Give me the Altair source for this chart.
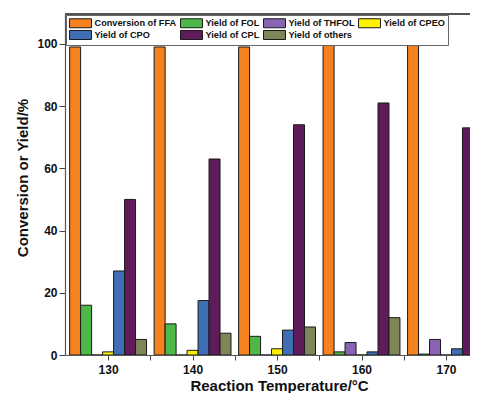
import altair as alt
import pandas as pd

temps = [130, 140, 150, 160, 170]
series = ["Conversion of FFA", "Yield of FOL", "Yield of THFOL", "Yield of CPEO",
          "Yield of CPO", "Yield of CPL", "Yield of others"]
ffa = [99, 99, 99, 100, 100]
fol = [16, 10, 6, 1, 0.3]
thfol = [0, 0, 0, 4, 5]
cpeo = [1, 1.5, 2, 0, 0]
cpo = [27, 17.5, 8, 1, 2]
cpl = [50, 63, 74, 81, 73]
others = [5, 7, 9, 12, 19.6]
colors = ["#F5821F", "#4DB848", "#8B63B5", "#FFF200", "#3F6EB5", "#5F1C5B", "#7E8556"]

values = [ffa, fol, thfol, cpeo, cpo, cpl, others]
rows = []
for i, (name, vals) in enumerate(zip(series, values)):
    for t, v in zip(temps, vals):
        rows.append({"temp": t, "series": name, "idx": i, "value": v})
df = pd.DataFrame(rows)

FONT = "Liberation Sans"
W = 405
xscale = alt.Scale(domain=[124.9, 172.84], nice=False, zero=False)
yscale = alt.Scale(domain=[0, 109.6], nice=False)

bars = alt.Chart(df).transform_calculate(
    x0="datum.temp + (datum.idx - 3.5) * 1.3",
    x1="datum.temp + (datum.idx - 2.5) * 1.3",
).mark_bar(stroke="#1a1a1a", strokeWidth=1, clip=True).encode(
    x=alt.X("x0:Q", scale=xscale, axis=alt.Axis(
        values=[130, 135, 140, 145, 150, 155, 160, 165, 170],
        labelExpr="datum.value % 10 == 0 ? datum.label : ''",
        title="Reaction Temperature/°C", grid=False, tickSize=5,
        labelPadding=4, titleX=214, titleY=35, titleBaseline="alphabetic",
        titleAlign="center", titleFontSize=15)),
    x2="x1:Q",
    y=alt.Y("value:Q", scale=yscale, axis=alt.Axis(
        values=[0, 20, 40, 60, 80, 100], title="Conversion or Yield/%",
        grid=False, tickSize=6, labelPadding=2,
        titleX=-43, titleY=163.5, titleAngle=-90, titleAlign="center",
        titleBaseline="middle")),
    y2=alt.datum(0),
    color=alt.Color("series:N", sort=series,
                    scale=alt.Scale(domain=series, range=colors),
                    legend=alt.Legend(
                        title=None, orient="none", legendX=1, legendY=1,
                        columns=4, direction="horizontal",
                        symbolType="M-2.44,-1L2.44,-1L2.44,1L-2.44,1Z",
                        symbolSize=81, symbolOffset=6.5,
                        symbolStrokeColor="#1a1a1a",
                        symbolStrokeWidth=1, symbolOpacity=1,
                        labelFont=FONT, labelFontSize=9.2, labelFontWeight="bold",
                        labelColor="#111", labelOffset=9, columnPadding=1,
                        rowPadding=-7, padding=3, strokeColor="#666",
                        fillColor="white", labelLimit=200)),
)

frame = alt.Chart(df).mark_rule(color="#555", strokeWidth=1.2).encode(
    x=alt.value(0), x2=alt.value(W), y=alt.value(0)
)

chart = alt.layer(bars, frame).properties(
    width=W, height=341,
    autosize=alt.AutoSizeParams(type="none"),
    padding={"left": 57, "top": 6, "right": 0, "bottom": 38},
).configure_view(stroke=None).configure_axis(
    labelFont=FONT, titleFont=FONT, labelFontSize=12, titleFontSize=15,
    labelFontWeight="bold", titleFontWeight="bold",
    labelColor="#111", titleColor="#111",
    domainColor="#555", tickColor="#444", domainWidth=1.2,
)

chart.save("out.html", embed_options={"renderer": "svg", "actions": False})
